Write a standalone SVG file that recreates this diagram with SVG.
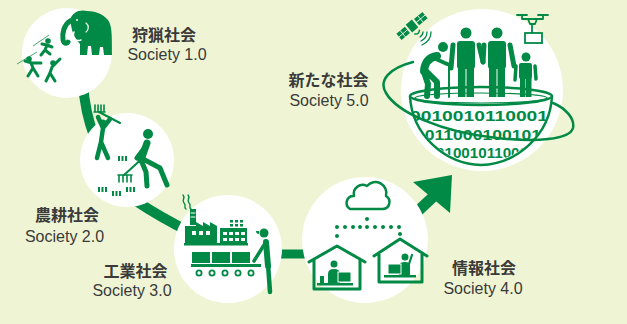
<svg xmlns="http://www.w3.org/2000/svg" width="627" height="324" viewBox="0 0 627 324">
  <defs>
    <style>
      .bg{fill:#eff5d4}
      .disc{fill:#ffffff}
      .g{fill:#008a45}
      .s{fill:none;stroke:#008a45;stroke-linecap:round;stroke-linejoin:round}
      .w{fill:none;stroke:#ffffff;stroke-linecap:round;stroke-linejoin:round}
      .link{fill:none;stroke:#008a45}
      .jp{font-family:"Noto Sans CJK JP","Noto Sans",sans-serif;font-weight:700;font-size:16px;fill:#3a3a3a;text-anchor:middle}
      .en{font-family:"Liberation Sans","Noto Sans",sans-serif;font-size:16px;fill:#3a3a3a;text-anchor:middle}
      .bin{font-family:"Liberation Sans","Noto Sans",sans-serif;font-weight:700;font-size:15px;fill:#008a45}
    </style>
    <clipPath id="bowl-clip">
      <path d="M 411 97 C 413 135 446 162 481 163 C 516 162 549 135 551 97 Z"/>
    </clipPath>
  </defs>

  <rect class="bg" x="0" y="0" width="627" height="324"/>

  <!-- thick path linking the eras, ending in an arrow -->
  <g id="connectors">
    <path class="link" stroke-width="10" d="M 83 84 Q 85 112 94 136"/>
    <path class="link" stroke-width="10" d="M 136 201 Q 160 217 190 232"/>
    <path class="link" stroke-width="9" d="M 276 254 H 310"/>
    <path class="link" stroke-width="11" d="M 402 226 L 434 196"/>
    <polygon class="g" points="413,182 452,175 450,213"/>
  </g>

  <!-- Society 1.0 : hunting -->
  <g id="society1">
    <circle class="disc" cx="67" cy="53" r="45"/>
    <!-- mammoth -->
    <path class="g" d="M 70 20 C 72 12 80 9 87 11 C 95 11 103 14 108 20 C 112 26 112 34 112 55 L 104 55 L 103 47 L 100 47 L 99 55 L 92 55 L 91 46 L 88 46 L 87 55 L 80 55 L 80 44 C 76 40 73 34 72 30 Z"/>
    <path class="s" stroke-width="5" d="M 70 21 C 64 25 62 33 63 40 C 64 44 67 44 68 42"/>
    <path class="w" stroke-width="1.5" d="M 70 30 C 65 35 67 41 75 40"/>
    <path class="w" stroke-width="1.5" d="M 74 32 C 72 38 75 42 81 40"/>
    <path class="w" stroke-width="1.2" d="M 86 23 C 89 25 89 30 86 32"/>
    <circle cx="77" cy="20" r="1" fill="#fff"/>
    <!-- hunters -->
    <line x1="33" y1="46" x2="49" y2="35" stroke="#4aa870" stroke-width="1"/>
    <circle class="g" cx="48" cy="41" r="2.8"/>
    <path class="s" stroke-width="3" d="M 47 45 L 45 50 L 41 55 M 45 50 L 50 54 M 42 44 L 47 45 L 52 47"/>
    <line x1="17" y1="64" x2="37" y2="52" stroke="#4aa870" stroke-width="1"/>
    <circle class="g" cx="29" cy="59" r="2.8"/>
    <path class="s" stroke-width="3" d="M 31 63 L 33 68 L 28 76 M 33 68 L 38 76 M 25 61 L 32 63 L 41 63"/>
    <circle class="g" cx="53" cy="63" r="2.8"/>
    <path class="s" stroke-width="3" d="M 52 67 L 50 73 L 46 81 M 50 73 L 55 81 M 52 67 L 60 59"/>
    <text class="jp" x="164" y="40.5">狩猟社会</text>
    <text class="en" x="167" y="60">Society 1.0</text>
  </g>

  <!-- Society 2.0 : farming -->
  <g id="society2">
    <circle class="disc" cx="127" cy="160" r="47"/>
    <!-- worker raising a rake -->
    <path class="s" stroke-width="1.6" d="M 95 105 V 112 M 98 105 V 112 M 101 105 V 112 M 104 105 V 112 M 94 112 H 105"/>
    <line class="s" stroke-width="2" x1="99" y1="112" x2="120" y2="123"/>
    <circle class="g" cx="103" cy="123" r="3.5"/>
    <path class="s" stroke-width="4.5" d="M 103 128 L 101 142 L 97 158 M 101 142 L 108 158 M 98 117 L 103 128 L 110 119"/>
    <!-- bending worker with rake -->
    <circle class="g" cx="148" cy="134" r="5"/>
    <path class="s" stroke-width="7" d="M 147 143 L 141 160"/>
    <path class="s" stroke-width="5" d="M 141 160 L 146 172 L 147 186 M 143 159 L 160 168 L 167 185 M 146 146 L 137 158"/>
    <line class="s" stroke-width="2" x1="145" y1="156" x2="124" y2="175"/>
    <path class="s" stroke-width="1.6" d="M 118 175 H 132 M 119 175 V 182 M 123 175 V 182 M 127 175 V 182 M 131 175 V 182"/>
    <!-- seedlings -->
    <g class="g">
      <rect x="118" y="156" width="2" height="5"/><rect x="121.5" y="156" width="2" height="5"/><rect x="125" y="156" width="2" height="5"/>
      <rect x="98" y="187" width="2" height="5"/><rect x="101.5" y="187" width="2" height="5"/><rect x="105" y="187" width="2" height="5"/>
      <rect x="112" y="191" width="2" height="5"/><rect x="115.5" y="191" width="2" height="5"/><rect x="119" y="191" width="2" height="5"/>
      <rect x="126" y="187" width="2" height="5"/><rect x="129.5" y="187" width="2" height="5"/><rect x="133" y="187" width="2" height="5"/>
    </g>
    <text class="jp" x="67" y="221">農耕社会</text>
    <text class="en" x="64.5" y="241.5">Society 2.0</text>
  </g>

  <!-- Society 3.0 : industry -->
  <g id="society3">
    <circle class="disc" cx="228" cy="249" r="54"/>
    <!-- smoke and stack -->
    <path class="s" stroke-width="1.4" d="M 183 195 C 186 198 181 200 184 203 C 187 206 183 207 186 209"/>
    <path class="s" stroke-width="1.4" d="M 188 195 C 191 198 186 200 189 203 C 192 206 188 207 191 209"/>
    <rect class="g" x="190" y="209" width="6" height="16"/>
    <path class="w" stroke-width="1" d="M 191 213 H 195 M 191 217 H 195"/>
    <!-- factory buildings -->
    <path class="g" d="M 185 244 V 226 H 196 L 196 222 L 203 226 L 203 222 L 210 226 L 210 222 L 217 226 V 244 Z"/>
    <g fill="#fff">
      <rect x="192" y="231" width="4" height="4"/><rect x="199" y="231" width="4" height="4"/><rect x="206" y="231" width="4" height="4"/>
    </g>
    <g class="g">
      <rect x="230" y="220" width="3" height="2.5"/><rect x="235" y="220" width="3" height="2.5"/><rect x="240" y="220" width="3" height="2.5"/>
      <rect x="230" y="224" width="3" height="2.5"/><rect x="235" y="224" width="3" height="2.5"/><rect x="240" y="224" width="3" height="2.5"/>
      <rect x="220" y="228" width="27" height="16"/>
      <rect x="184" y="243" width="64" height="2.5"/>
    </g>
    <g fill="#fff">
      <rect x="223" y="232" width="4" height="3"/><rect x="229" y="232" width="4" height="3"/><rect x="235" y="232" width="4" height="3"/><rect x="241" y="232" width="4" height="3"/>
      <rect x="223" y="238" width="4" height="3"/><rect x="229" y="238" width="4" height="3"/><rect x="235" y="238" width="4" height="3"/><rect x="241" y="238" width="4" height="3"/>
    </g>
    <!-- conveyor -->
    <g class="g">
      <rect x="192" y="252" width="18" height="11"/>
      <rect x="212" y="252" width="18" height="11"/>
      <rect x="232" y="252" width="18" height="11"/>
      <rect x="191" y="264" width="70" height="3"/>
    </g>
    <g fill="#fff" stroke="#008a45" stroke-width="1.8">
      <circle cx="199" cy="273" r="2.6"/><circle cx="212" cy="273" r="2.6"/><circle cx="225" cy="273" r="2.6"/><circle cx="238" cy="273" r="2.6"/><circle cx="251" cy="273" r="2.6"/>
    </g>
    <!-- worker -->
    <circle class="g" cx="264" cy="233" r="4.5"/>
    <path class="g" d="M 259 231 H 256 Q 256 234 259 234 Z"/>
    <path class="s" stroke-width="6" d="M 266 242 L 268 266"/>
    <path class="s" stroke-width="4.5" d="M 268 264 L 270 292"/>
    <path class="s" stroke-width="3.5" d="M 264 245 L 254 261"/>
    <text class="jp" x="135.5" y="276.5">工業社会</text>
    <text class="en" x="132" y="296">Society 3.0</text>
  </g>

  <!-- Society 4.0 : information -->
  <g id="society4">
    <circle class="disc" cx="365" cy="240" r="63"/>
    <path class="s" stroke-width="2.5" fill="#fff" d="M 350 209 H 383 A 7 7 0 0 0 386 196 A 11 11 0 0 0 367 186 A 9 9 0 0 0 354 196 A 7 7 0 0 0 350 209 Z"/>
    <g class="g">
      <circle cx="367" cy="219" r="2"/>
      <circle cx="337" cy="227" r="2"/><circle cx="345" cy="227" r="2"/><circle cx="353" cy="227" r="2"/><circle cx="360" cy="227" r="2"/><circle cx="367" cy="227" r="2"/><circle cx="375" cy="227" r="2"/><circle cx="383" cy="227" r="2"/><circle cx="391" cy="227" r="2"/><circle cx="399" cy="227" r="2"/>
      <circle cx="337" cy="236" r="2"/><circle cx="400" cy="234" r="2"/>
    </g>
    <!-- home office left -->
    <path class="s" stroke-width="3" d="M 309 262 L 337 246 L 365 262 M 314 259 V 289 H 360 V 259"/>
    <circle class="g" cx="334" cy="264" r="3.5"/>
    <path class="g" d="M 328 283 V 274 Q 328 269 334 269 Q 340 269 340 274 V 283 Z"/>
    <rect class="g" x="338" y="272" width="13" height="10" stroke="#fff" stroke-width="1"/>
    <rect class="g" x="320" y="276" width="4" height="7"/>
    <rect class="g" x="317" y="283" width="36" height="2.5"/>
    <!-- home office right -->
    <path class="s" stroke-width="3" d="M 374 256 L 400 239 L 427 256 M 379 253 V 282 H 422 V 253"/>
    <circle class="g" cx="405" cy="257" r="3.5"/>
    <path class="g" d="M 399 275 V 266 Q 399 262 405 262 Q 410 262 410 266 V 275 Z"/>
    <path class="s" stroke-width="2.2" d="M 409 264 L 412 255"/>
    <rect class="g" x="388" y="264" width="13" height="10" stroke="#fff" stroke-width="1"/>
    <rect class="g" x="384" y="275" width="32" height="2.5"/>
    <text class="jp" x="484" y="274">情報社会</text>
    <text class="en" x="483" y="293.5">Society 4.0</text>
  </g>

  <!-- Society 5.0 : new society -->
  <g id="society5">
    <circle class="disc" cx="482" cy="90" r="81"/>
    <!-- satellite -->
    <g transform="translate(412 26) rotate(-40)">
      <rect class="g" x="-17" y="-4" width="11" height="8"/>
      <rect class="g" x="6" y="-4" width="11" height="8"/>
      <rect class="g" x="-4" y="-5" width="8" height="10"/>
      <path class="w" stroke-width="0.8" d="M -12 -4 V 4 M 11 -4 V 4 M -17 0 H -6 M 6 0 H 17"/>
      <path class="s" stroke-width="1.5" d="M -3 8 Q 0 11 3 8"/>
    </g>
    <path class="s" stroke-width="1.3" d="M 420 37 Q 423 35 423 32 M 421 41 Q 427 38 427 32 M 422 45 Q 431 41 431 32"/>
    <!-- drone carrying a parcel -->
    <path class="s" stroke-width="1.8" d="M 517 15 H 527 M 538 15 H 548 M 522 15 V 19 H 543 V 15 M 528 19 L 530 24 H 535 L 537 19 M 532 24 V 33"/>
    <rect x="525" y="33" width="17" height="10" fill="#fff" stroke="#008a45" stroke-width="1.8"/>
    <!-- bowl of data -->
    <path fill="#fff" stroke="#008a45" stroke-width="2.5" d="M 410 96 C 412 136 446 164 481 165 C 516 164 550 136 552 96"/>
    <g clip-path="url(#bowl-clip)">
      <text class="bin" x="410" y="121" textLength="138" lengthAdjust="spacingAndGlyphs">0010010110001</text>
      <text class="bin" x="415" y="139.5" textLength="126" lengthAdjust="spacingAndGlyphs">1011000100101</text>
      <text class="bin" x="436" y="158" textLength="92" lengthAdjust="spacingAndGlyphs">01001011000</text>
    </g>
    <ellipse cx="481" cy="96" rx="71" ry="9" fill="#fff" stroke="#008a45" stroke-width="2.5"/>
    <ellipse cx="481" cy="98" rx="66" ry="5" fill="none" stroke="#008a45" stroke-width="1.2"/>
    <!-- elderly walker with cane -->
    <circle class="g" cx="443" cy="47" r="5"/>
    <path class="s" stroke-width="8" d="M 437 56 Q 425 58 424 71"/>
    <path class="s" stroke-width="6" d="M 424 72 L 428 84 L 427 96 M 427 72 L 437 82 L 437 96"/>
    <path class="s" stroke-width="4" d="M 436 59 L 447 64"/>
    <path class="s" stroke-width="2" d="M 446 64 Q 448 62 449 65 V 97"/>
    <!-- adults holding hands -->
    <circle class="g" cx="466" cy="33" r="5.5"/>
    <rect class="g" x="457" y="41" width="18" height="28" rx="3"/>
    <path class="s" stroke-width="5" d="M 453 45 L 451 68 M 479 45 L 483 62"/>
    <rect class="g" x="458" y="67" width="7.5" height="30"/>
    <rect class="g" x="466.5" y="67" width="7.5" height="30"/>
    <circle class="g" cx="497" cy="33" r="5.5"/>
    <rect class="g" x="488" y="41" width="18" height="28" rx="3"/>
    <path class="s" stroke-width="5" d="M 484 45 L 483 62 M 510 45 L 514 66"/>
    <rect class="g" x="489" y="67" width="7.5" height="30"/>
    <rect class="g" x="497.5" y="67" width="7.5" height="30"/>
    <!-- child -->
    <circle class="g" cx="526" cy="57" r="4.5"/>
    <rect class="g" x="519" y="63" width="13" height="16" rx="2"/>
    <path class="s" stroke-width="3.5" d="M 516 66 L 515 80 M 535 66 L 536 79"/>
    <rect class="g" x="520" y="78" width="5.5" height="19"/>
    <rect class="g" x="526" y="78" width="5.5" height="19"/>
    <!-- orbit -->
    <path class="s" stroke-width="2.5" d="M 413 62 C 390 68 378 80 386 93 C 397 112 440 132 497 138 C 535 142 570 140 573 128 C 575 118 565 108 553 103"/>
    <text class="jp" x="328.5" y="86">新たな社会</text>
    <text class="en" x="329" y="105.5">Society 5.0</text>
  </g>
</svg>
